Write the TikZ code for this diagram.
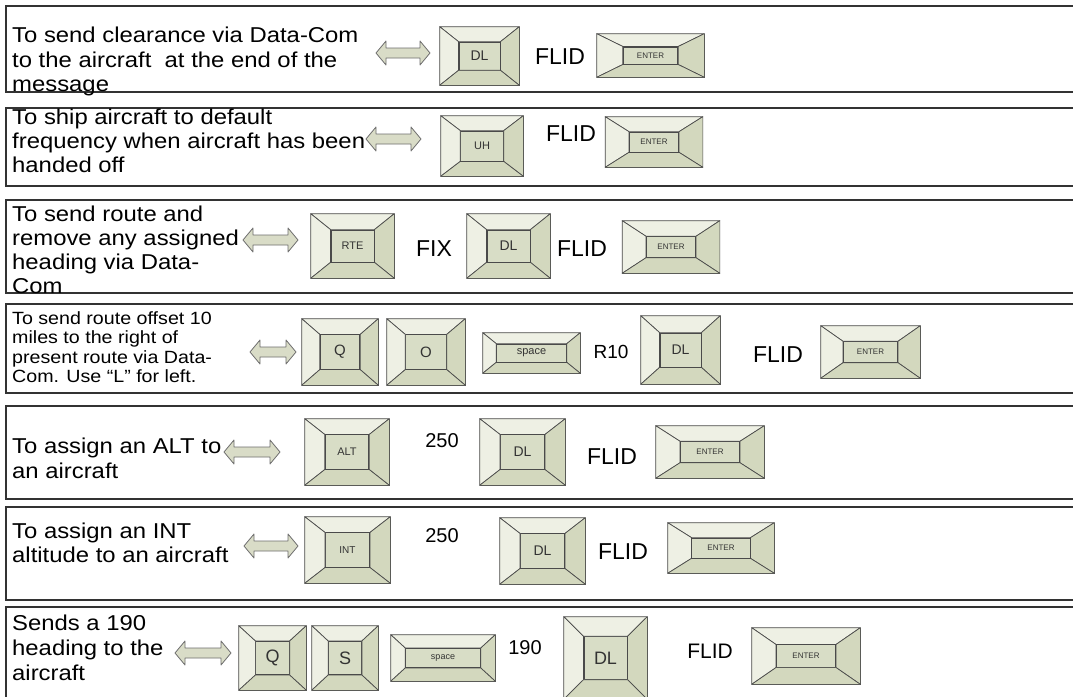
\documentclass[tikz,border=0pt]{standalone}
\usepackage{fontspec}
\setmainfont{Liberation Sans}
\newfontfamily\descfont[FakeStretch=1.11]{Liberation Sans}
\usetikzlibrary{calc}
\definecolor{keylt}{HTML}{EEF0E4}
\definecolor{keydk}{HTML}{D3D8BE}
\definecolor{keyface}{HTML}{D8DDC6}
\definecolor{keyedge}{HTML}{4A4A4A}
\definecolor{arrfill}{HTML}{D9DCC7}
\definecolor{arredge}{HTML}{6E6E6E}
\definecolor{boxedge}{HTML}{333333}
\newcommand\fsz[2]{\fontsize{#1}{#2}\selectfont}
\tikzset{
  rowbox/.style={draw=boxedge, line width=1.4pt},
  keyouter/.style={rectangle, draw=keyedge, fill=keylt, line width=0.7pt, inner sep=0pt},
  keyinner/.style={rectangle, draw=keyedge, fill=keyface, line width=0.8pt, inner sep=0pt, text=black!80},
  bevellt/.style={draw=keyedge, fill=keylt, line width=0.7pt, line join=round},
  beveldk/.style={draw=keyedge, fill=keydk, line width=0.7pt, line join=round},
  dblarrow/.style={draw=arredge, fill=arrfill, line width=0.8pt, line join=round},
  desc/.style={anchor=north west, align=left, inner sep=0pt},
  bigtxt/.style={inner sep=0pt, anchor=center, font=\fsz{23}{23}},
  numtxt/.style={inner sep=0pt, anchor=center, font=\fsz{20}{20}},
}
% name, cx, cy, w, h, inner w ratio, inner h ratio, label size, label
\newcommand\kbkey[9]{%
  \pgfmathsetmacro\kiw{#4*#6}\pgfmathsetmacro\kih{#5*#7}%
  \node[keyouter, minimum width=#4pt, minimum height=#5pt] (#1) at (#2,#3) {};
  \node[keyinner, minimum width=\kiw pt, minimum height=\kih pt, font=\fsz{#8}{#8}] (#1i) at (#2,#3) {#9};
  \path[bevellt] (#1.north west) -- (#1.north east) -- (#1i.north east) -- (#1i.north west) -- cycle;
  \path[bevellt] (#1.north west) -- (#1i.north west) -- (#1i.south west) -- (#1.south west) -- cycle;
  \path[beveldk] (#1.north east) -- (#1.south east) -- (#1i.south east) -- (#1i.north east) -- cycle;
  \path[beveldk] (#1.south west) -- (#1i.south west) -- (#1i.south east) -- (#1.south east) -- cycle;
}
% name, x1, x2, cy
\newcommand\dblarr[4]{%
  \coordinate (#1) at ({(#2+#3)/2},#4);
  \path[dblarrow] (#2,#4) -- ({#2+10},{#4-12}) -- ({#2+10},{#4-5}) -- ({#3-10},{#4-5})
    -- ({#3-10},{#4-12}) -- (#3,#4) -- ({#3-10},{#4+12}) -- ({#3-10},{#4+5})
    -- ({#2+10},{#4+5}) -- ({#2+10},{#4+12}) -- cycle;
}
\begin{document}
\begin{tikzpicture}[x=1pt,y=-1pt]
\useasboundingbox (0,0) rectangle (1073,696);
\fill[white] (0,0) rectangle (1073,696);
\clip (0,0) rectangle (1073,696);

% row boxes
\draw[rowbox] (1090,6) -- (6,6) -- (6,92) -- (1090,92);
\draw[rowbox] (1090,108) -- (6,108) -- (6,186) -- (1090,186);
\draw[rowbox] (1090,200) -- (6,200) -- (6,293) -- (1090,293);
\draw[rowbox] (1090,304) -- (6,304) -- (6,393) -- (1090,393);
\draw[rowbox] (1090,406) -- (6,406) -- (6,499) -- (1090,499);
\draw[rowbox] (1090,507) -- (6,507) -- (6,600) -- (1090,600);
\draw[rowbox] (1090,607) -- (6,607) -- (6,710);

% Row 1
\node[desc, font=\descfont\fsz{21.5}{24.3}] (d1) at (12,27) {To send clearance via Data-Com\\to the aircraft\ \ at the end of the\\message};
\dblarr{a1}{376}{430}{53}
\kbkey{k1a}{479.5}{56}{79}{58}{0.52}{0.48}{14}{DL}
\node[bigtxt] (f1) at (560,57) {FLID};
\kbkey{k1b}{650.5}{55.5}{107}{43}{0.51}{0.40}{8}{ENTER}

% Row 2
\node[desc, font=\descfont\fsz{21.5}{23.8}] (d2) at (12,109) {To ship aircraft to default\\frequency when aircraft has been\\handed off};
\dblarr{a2}{366}{421}{139}
\kbkey{k2a}{482}{146}{82}{60}{0.52}{0.50}{11}{UH}
\node[bigtxt] (f2) at (571,134) {FLID};
\kbkey{k2b}{654}{142}{97}{50}{0.51}{0.40}{8}{ENTER}

% Row 3
\node[desc, font=\descfont\fsz{21.5}{24}] (d3) at (12,205.5) {To send route and\\remove any assigned\\heading via Data-\\Com};
\dblarr{a3}{243}{298}{240}
\kbkey{k3a}{352.5}{246}{83}{64}{0.52}{0.50}{11}{RTE}
\node[bigtxt] (x3) at (434,249) {FIX};
\kbkey{k3b}{508.5}{246}{83}{64}{0.52}{0.50}{14}{DL}
\node[bigtxt] (f3) at (582,249) {FLID};
\kbkey{k3c}{671}{247}{97}{52}{0.51}{0.40}{8}{ENTER}

% Row 4
\node[desc, font=\descfont\fsz{17.7}{19.5}] (d4) at (12,311) {To send route offset 10\\miles to the right of\\present route via Data-\\Com. Use “L” for left.};
\dblarr{a4}{250}{296}{352}
\kbkey{k4a}{340}{352}{76}{66}{0.52}{0.52}{15}{Q}
\kbkey{k4b}{426}{352}{78}{66}{0.52}{0.52}{15}{O}
\kbkey{k4c}{531.5}{353}{97}{40}{0.72}{0.45}{11}{space}
\node[numtxt, font=\fsz{19}{19}] (r4) at (611,352) {R10};
\kbkey{k4d}{680.5}{350}{79}{68}{0.52}{0.50}{14}{DL}
\node[bigtxt] (f4) at (778,355) {FLID};
\kbkey{k4e}{870.5}{352}{99}{52}{0.55}{0.40}{8}{ENTER}

% Row 5
\node[desc, font=\descfont\fsz{21.5}{25}] (d5) at (12,437.5) {To assign an ALT to\\an aircraft};
\dblarr{a5}{224}{280}{452}
\kbkey{k5a}{347}{452}{84}{66}{0.52}{0.52}{11}{ALT}
\node[numtxt] (n5) at (442,441) {250};
\kbkey{k5b}{522.5}{452}{85}{66}{0.52}{0.52}{14}{DL}
\node[bigtxt] (f5) at (612,457) {FLID};
\kbkey{k5c}{710}{452}{108}{52}{0.55}{0.40}{8}{ENTER}

% Row 6
\node[desc, font=\descfont\fsz{21.5}{24}] (d6) at (12,522.5) {To assign an INT\\altitude to an aircraft};
\dblarr{a6}{244}{298}{546}
\kbkey{k6a}{347.5}{550}{85}{66}{0.52}{0.52}{10}{INT}
\node[numtxt] (n6) at (442,536) {250};
\kbkey{k6b}{542.5}{551}{85}{66}{0.52}{0.52}{14}{DL}
\node[bigtxt] (f6) at (623,552) {FLID};
\kbkey{k6c}{721}{548}{106}{50}{0.55}{0.40}{8}{ENTER}

% Row 7
\node[desc, font=\descfont\fsz{21.5}{25}] (d7) at (12,614.5) {Sends a 190\\heading to the\\aircraft};
\dblarr{a7}{175}{231}{653}
\kbkey{k7a}{272.5}{658}{67}{64}{0.50}{0.52}{18}{Q}
\kbkey{k7b}{345}{658}{66}{64}{0.50}{0.52}{18}{S}
\kbkey{k7c}{443}{658}{104}{46}{0.72}{0.42}{9}{space}
\node[numtxt] (n7) at (525,648) {190};
\kbkey{k7d}{605.5}{658}{83}{82}{0.52}{0.52}{18}{DL}
\node[bigtxt, font=\fsz{21}{21}] (f7) at (710,651) {FLID};
\kbkey{k7e}{806}{656}{108}{56}{0.55}{0.40}{8}{ENTER}
\end{tikzpicture}
\end{document}
